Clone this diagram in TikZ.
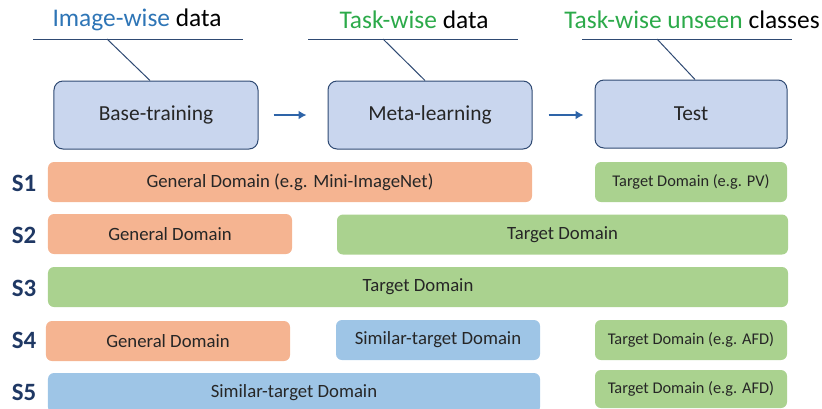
\documentclass[tikz,border=0pt]{standalone}
\usepackage{fontspec}
\setmainfont{Carlito}
\usepackage{tikz}
\usetikzlibrary{arrows.meta}

\definecolor{stagefill}{HTML}{C9D6EE}
\definecolor{stageline}{HTML}{2F4A73}
\definecolor{genfill}{HTML}{F5B491}
\definecolor{tarfill}{HTML}{AAD28F}
\definecolor{simfill}{HTML}{9EC5E6}
\definecolor{headblue}{HTML}{2E75B6}
\definecolor{headgreen}{HTML}{2CAA4A}
\definecolor{rowblue}{HTML}{1F3864}
\definecolor{arrowblue}{HTML}{2E64A8}
\definecolor{bodytext}{HTML}{262626}

\begin{document}
\begin{tikzpicture}[x=1bp, y=-1bp, >={Latex[length=8bp,width=9bp]},
    stage/.style={draw=stageline, line width=1bp, fill=stagefill, rounded corners=9bp,
        minimum width=204bp, minimum height=68bp, inner sep=0pt, text=bodytext,
        font=\fontsize{21.5}{24}\selectfont},
    heading/.style={font=\fontsize{25.5}{28}\selectfont, inner sep=0pt},
    dombar/.style={rounded corners=6bp, minimum height=40bp, inner sep=0pt, text=bodytext,
        font=\fontsize{18.8}{20}\selectfont},
    smalldom/.style={dombar, fill=tarfill, minimum width=192bp,
        font=\fontsize{16.4}{18}\selectfont},
    rowlabel/.style={text=rowblue, font=\fontsize{25}{28}\selectfont\bfseries, inner sep=0pt},
    guide/.style={draw=stageline, line width=1bp}]
  \useasboundingbox (0,0) rectangle (822,408);

  % stages
  \node [stage] (base) at (156,115) {Base-training};
  \node [stage] (meta) at (430,115) {Meta-learning};
  \node [stage, minimum width=192bp] (test) at (691,114) {Test};
  \draw [->, arrowblue, line width=2.4bp] (base.east) ++(15,0) coordinate (a1) -- ++(33,0);
  \draw [->, arrowblue, line width=2.4bp] (meta.east) ++(16,0) coordinate (a2) -- ++(35,0);

  % headings
  \node [heading] (hbase) at (137,20) {\textcolor{headblue}{Image-wise} data};
  \node [heading] (hmeta) at (414,20) {\textcolor{headgreen}{Task-wise} data};
  \node [heading] (htest) at (692,20) {\textcolor{headgreen}{Task-wise unseen} classes};
  \coordinate (k1) at (107,39);
  \coordinate (k2) at (383,39);
  \coordinate (k3) at (657,39);
  \draw [guide] (33,39) -- (243,39);
  \draw [guide] (308,39) -- (518,39);
  \draw [guide] (582,39) -- (792,39);
  \draw [guide] (k1) -- (base.north -| 150,0);
  \draw [guide] (k2) -- (meta.north -| 425,0);
  \draw [guide] (k3) -- (test.north -| 695,0);

  % settings
  \node [rowlabel] (s1) at (24,183) {S1};
  \node [rowlabel] (s2) at (24,235) {S2};
  \node [rowlabel] (s3) at (24,288) {S3};
  \node [rowlabel] (s4) at (24,340) {S4};
  \node [rowlabel] (s5) at (24,392) {S5};

  \node [dombar, fill=genfill, minimum width=484bp] (g1) at (290,182) {General Domain (e.g. Mini-ImageNet)};
  \node [smalldom] (t1) at (691,182) {Target Domain (e.g. PV)};

  \node [dombar, fill=genfill, minimum width=244bp] (g2) at (170,234) {General Domain};
  \node [dombar, fill=tarfill, minimum width=451bp] (t2) at (562.5,234.5) {Target Domain};

  \node [dombar, fill=tarfill, minimum width=740bp] (t3) at (418,287) {Target Domain};

  \node [dombar, fill=genfill, minimum width=244bp] (g4) at (168,341) {General Domain};
  \node [dombar, fill=simfill, minimum width=204bp] (m4) at (438,340) {Similar-target Domain};
  \node [smalldom] (t4) at (691,340) {Target Domain (e.g. AFD)};

  \node [dombar, fill=simfill, minimum width=492bp] (m5) at (294,393) {Similar-target Domain};
  \node [smalldom, minimum height=38bp] (t5) at (691,389) {Target Domain (e.g. AFD)};
\end{tikzpicture}
\end{document}
